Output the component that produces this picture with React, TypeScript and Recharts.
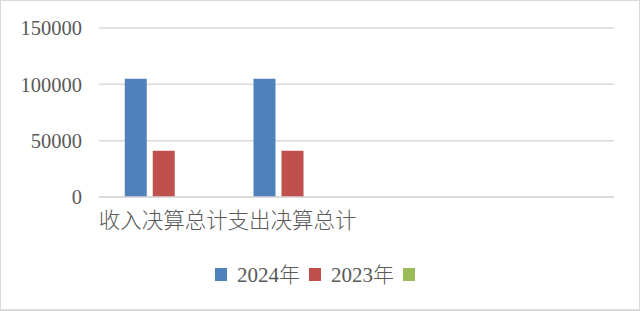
import React from 'react';
import { BarChart, Bar, XAxis, YAxis, CartesianGrid, Legend } from 'recharts';

// Category labels along the x axis (the last two slots are empty)
const categories = ['收入决算总计', '支出决算总计', '', ''];
// Series values per category
const values2024 = [105000, 105000, null, null];
const values2023 = [41000, 41000, null, null];
const values3 = [null, null, null, null];
// Series names and colours
const seriesKeys = ['s2024', 's2023', 's3'];
const seriesNames = ['2024年', '2023年', ''];
const seriesColors = ['#4F81BD', '#C0504D', '#9BBB59'];
// Y axis ticks
const yTicks = [0, 50000, 100000, 150000];

const data = categories.map((name, i) => ({
  name,
  s2024: values2024[i],
  s2023: values2023[i],
  s3: values3[i],
}));

const textColor = '#595959';
const serifFont = 'Liberation Serif, Noto Sans CJK SC, serif';
const cjkFont = 'Noto Sans CJK SC, sans-serif';

const LegendContent = () => (
  <div
    style={{
      display: 'flex',
      justifyContent: 'center',
      alignItems: 'center',
      height: 26,
      paddingRight: 10,
      fontFamily: serifFont,
      fontSize: 21,
      color: textColor,
    }}
  >
    {seriesNames.map((n, i) => (
      <div key={i} style={{ display: 'flex', alignItems: 'center' }}>
        <span
          style={{
            display: 'inline-block',
            width: 12,
            height: 13,
            background: seriesColors[i],
            marginRight: n ? 10 : 0,
          }}
        />
        {n ? (
          <span style={{ marginRight: 9, lineHeight: '26px' }}>
            {n.slice(0, -1)}
            <span style={{ fontFamily: cjkFont, fontWeight: 300 }}>{n.slice(-1)}</span>
          </span>
        ) : null}
      </div>
    ))}
  </div>
);

export default function App() {
  return (
    <div style={{ position: 'absolute', left: 0, top: 0, width: 640, height: 311, background: '#fff' }}>
      <BarChart
        width={640}
        height={311}
        data={data}
        margin={{ top: 28, right: 26, left: 0, bottom: 24 }}
        barCategoryGap="20%"
        barGap={6}
      >
        <CartesianGrid vertical={false} stroke="#d9d9d9" strokeWidth={1.5} />
        <XAxis
          dataKey="name"
          height={64}
          interval={0}
          tickLine={false}
          tickSize={0}
          tickMargin={16}
          axisLine={{ stroke: '#d9d9d9', strokeWidth: 1.5 }}
          tick={{ fill: textColor, fontSize: 21.5, fontFamily: cjkFont, fontWeight: 300 }}
        />
        <YAxis
          width={99}
          domain={[0, 150000]}
          ticks={yTicks}
          axisLine={false}
          tickLine={false}
          tickSize={0}
          tickMargin={17}
          tick={{ fill: textColor, fontSize: 20.5, fontFamily: serifFont }}
        />
        <Legend
          verticalAlign="bottom"
          wrapperStyle={{ left: 0, width: 640 }}
          content={<LegendContent />}
        />
        {seriesKeys.map((k, i) => (
          <Bar
            key={k}
            dataKey={k}
            name={seriesNames[i]}
            fill={seriesColors[i]}
            isAnimationActive={false}
          />
        ))}
      </BarChart>
      <div
        style={{
          position: 'absolute',
          left: 0,
          top: 0,
          width: 640,
          height: 311,
          boxSizing: 'border-box',
          border: '1px solid #d9d9d9',
          borderBottomWidth: 2,
          pointerEvents: 'none',
        }}
      />
    </div>
  );
}
